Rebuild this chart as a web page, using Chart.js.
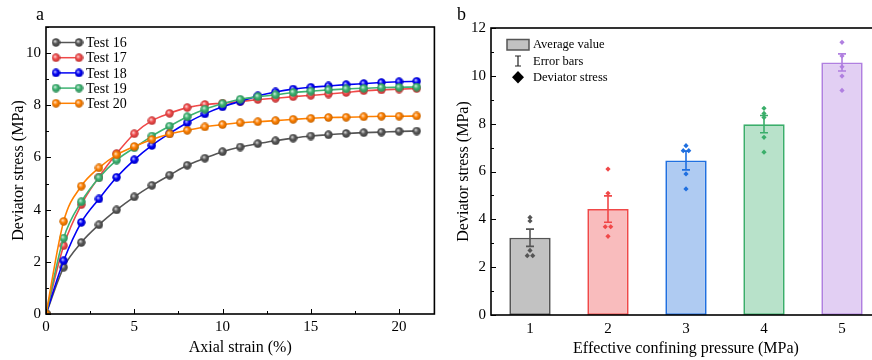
<!DOCTYPE html>
<html>
<head>
<meta charset="utf-8">
<script src="https://cdn.jsdelivr.net/npm/chart.js@4.4.1/dist/chart.umd.min.js"></script>
<style>
  html, body { margin: 0; padding: 0; background: #fff; overflow: hidden; }
  #wrap { position: relative; width: 872px; height: 360px; overflow: hidden; }
  #box-a { position: absolute; left: 0; top: 0; width: 440px; height: 360px; }
  #box-b { position: absolute; left: 440px; top: 0; width: 450px; height: 360px; }
  .tag { position: absolute; font: 18px "Liberation Serif", serif; color: #000; }
</style>
</head>
<body>
<div id="wrap">
  <div id="box-a"><canvas id="chart-a" width="440" height="360"></canvas></div>
  <div id="box-b"><canvas id="chart-b" width="450" height="360"></canvas></div>
  <div class="tag" style="left:36px; top:4px;">a</div>
  <div class="tag" style="left:457px; top:4px;">b</div>
</div>
<script>
/************************ data for panel a *********************************/

const strain = [0, 1, 2, 3, 4, 5, 6, 7, 8, 9, 10, 11, 12, 13, 14, 15, 16, 17, 18, 19, 20, 21];
const test16 = [0, 1.79, 2.74, 3.42, 3.99, 4.49, 4.93, 5.32, 5.70, 5.97, 6.22, 6.40, 6.53, 6.64, 6.74, 6.82, 6.87, 6.92, 6.95, 6.97, 7.00, 7.01];
const test17 = [0, 2.62, 4.19, 5.25, 6.15, 6.91, 7.41, 7.69, 7.91, 8.03, 8.08, 8.14, 8.22, 8.27, 8.33, 8.38, 8.43, 8.49, 8.56, 8.59, 8.62, 8.64];
const test18 = [0, 2.04, 3.51, 4.41, 5.24, 5.91, 6.46, 6.92, 7.33, 7.67, 7.94, 8.15, 8.36, 8.51, 8.62, 8.69, 8.74, 8.79, 8.83, 8.87, 8.90, 8.92];
const test19 = [0, 2.91, 4.30, 5.22, 5.90, 6.37, 6.82, 7.20, 7.56, 7.85, 8.06, 8.23, 8.33, 8.40, 8.49, 8.54, 8.59, 8.63, 8.65, 8.68, 8.69, 8.70];
const test20 = [0, 3.55, 4.90, 5.60, 6.10, 6.42, 6.69, 6.90, 7.04, 7.17, 7.26, 7.33, 7.37, 7.41, 7.46, 7.50, 7.53, 7.54, 7.56, 7.58, 7.58, 7.59];
const testNames = ["Test 16", "Test 17", "Test 18", "Test 19", "Test 20"];
const testSeries = [test16, test17, test18, test19, test20];
const testColors = ["#555555", "#f04848", "#0000f5", "#3cb371", "#ff8000"];

/************************ data for panel b *********************************/

const pressure = [1, 2, 3, 4, 5];
const avgStress = [3.23, 4.43, 6.46, 7.98, 10.56];
const stressErr = [0.36, 0.55, 0.39, 0.36, 0.36];
// single tests for each confining pressure (x slightly spread where points overlap)
const sampleX = [
  [1, 1, 1, 0.965, 1.035],
  [2, 2, 1.965, 2.035, 2],
  [3, 2.965, 3.035, 3, 3],
  [4, 4, 4, 4, 4],
  [5, 5, 5, 5, 5],
];
const sampleY = [
  [4.08, 3.93, 2.70, 2.48, 2.48],
  [6.10, 5.09, 3.69, 3.69, 3.29],
  [7.08, 6.87, 6.87, 5.90, 5.27],
  [8.64, 8.43, 8.26, 7.43, 6.81],
  [11.40, 10.83, 10.38, 9.99, 9.39],
];
const barFill = ["#c2c2c2", "#f9bcbd", "#afcbf2", "#b8e2ca", "#e2cff3"];
const barLine = ["#555555", "#f04848", "#1f6fe0", "#3aae6a", "#b07fe0"];

const serif = "'Liberation Serif', 'Times New Roman', serif";

/************************ shaded ball markers *********************************/

function shade(hex, f) {
  const n = parseInt(hex.slice(1), 16);
  let r = (n >> 16) & 255, g = (n >> 8) & 255, b = n & 255;
  if (f > 0) { r += (255 - r) * f; g += (255 - g) * f; b += (255 - b) * f; }
  else { r *= 1 + f; g *= 1 + f; b *= 1 + f; }
  return "rgb(" + Math.round(r) + "," + Math.round(g) + "," + Math.round(b) + ")";
}

function ball(hex) {
  const c = document.createElement("canvas");
  c.width = c.height = 9;
  const g = c.getContext("2d");
  const grad = g.createRadialGradient(3.4, 3.2, 0.3, 4.5, 4.5, 4.5);
  grad.addColorStop(0, shade(hex, 0.75));
  grad.addColorStop(0.45, hex);
  grad.addColorStop(1, shade(hex, -0.25));
  g.fillStyle = grad;
  g.beginPath();
  g.arc(4.5, 4.5, 4.2, 0, Math.PI * 2);
  g.fill();
  return c;
}
const balls = testColors.map(ball);

/************************ frame + inward ticks *********************************/

const framePlugin = {
  id: "frame",
  afterDraw(chart, args, opts) {
    const ctx = chart.ctx;
    const a = chart.chartArea;
    const xs = chart.scales.x, ys = chart.scales.y;
    ctx.save();
    ctx.strokeStyle = "#000";
    ctx.lineWidth = 1;
    (opts.yMajor || []).forEach(function (v) {
      const len = v % opts.yStep === 0 ? 5 : 3;
      const py = Math.round(ys.getPixelForValue(v)) + 0.5;
      ctx.beginPath(); ctx.moveTo(a.left, py); ctx.lineTo(a.left + len, py); ctx.stroke();
    });
    (opts.xMajor || []).forEach(function (v) {
      const len = v % opts.xStep === 0 ? 5 : 3;
      const px = Math.round(xs.getPixelForValue(v)) + 0.5;
      ctx.beginPath(); ctx.moveTo(px, a.bottom); ctx.lineTo(px, a.bottom - len); ctx.stroke();
    });
    ctx.lineWidth = 1.6;
    ctx.strokeRect(a.left, a.top, a.right - a.left, a.bottom - a.top);
    ctx.restore();
  }
};

/************************ CHART A: stress-strain curves ******************************/

const legendA = {
  id: "legendA",
  afterDraw(chart) {
    const ctx = chart.ctx;
    ctx.save();
    ctx.font = "14px " + serif;
    ctx.textBaseline = "middle";
    ctx.fillStyle = "#000";
    testNames.forEach(function (name, i) {
      const y = 42.5 + i * 15.2;
      ctx.strokeStyle = testColors[i];
      ctx.lineWidth = 1.5;
      ctx.beginPath(); ctx.moveTo(56, y); ctx.lineTo(79, y); ctx.stroke();
      ctx.drawImage(balls[i], 56 - 4.5, y - 4.5);
      ctx.drawImage(balls[i], 79 - 4.5, y - 4.5);
      ctx.fillText(name, 86, y + 1);
    });
    ctx.restore();
  }
};

const ctxA = document.getElementById("chart-a").getContext("2d");
const chartA = new Chart(ctxA, {
  type: "line",
  data: {
    datasets: testSeries.map(function (vals, i) {
      return {
        label: testNames[i],
        data: strain.map(function (s, k) { return { x: s, y: vals[k] }; }),
        borderColor: testColors[i],
        backgroundColor: testColors[i],
        borderWidth: 1.6,
        pointStyle: balls[i],
        cubicInterpolationMode: "monotone",
        order: testSeries.length - 1 - i,
      };
    }),
  },
  options: {
    responsive: false,
    animation: false,
    layout: { padding: { top: 27, right: 4, left: 0, bottom: 0 } },
    plugins: {
      legend: { display: false },
      tooltip: { enabled: false },
      frame: {
        yMajor: [0, 1, 2, 3, 4, 5, 6, 7, 8, 9, 10, 11], yStep: 2,
        xMajor: [0, 2.5, 5, 7.5, 10, 12.5, 15, 17.5, 20], xStep: 5,
      },
    },
    scales: {
      x: {
        type: "linear",
        min: 0, max: 22,
        grid: { display: false, drawTicks: false },
        border: { display: false },
        ticks: { stepSize: 5, padding: 4, color: "#000", font: { family: serif, size: 15 } },
        afterBuildTicks(s) { s.ticks = s.ticks.filter(function (t) { return t.value % 5 === 0; }); },
        afterFit(s) { s.height = 46; },
        title: { display: true, text: "Axial strain (%)", color: "#000", padding: { top: 0, bottom: 3 }, font: { family: serif, size: 16 } },
      },
      y: {
        min: 0, max: 11,
        grid: { display: false, drawTicks: false },
        border: { display: false },
        ticks: { stepSize: 2, padding: 5, color: "#000", font: { family: serif, size: 15 } },
        afterBuildTicks(s) { s.ticks = s.ticks.filter(function (t) { return t.value % 2 === 0; }); },
        afterFit(s) { s.width = 46; },
        title: { display: true, text: "Deviator stress (MPa)", color: "#000", padding: { top: 9, bottom: 0 }, font: { family: serif, size: 16 } },
      },
    },
  },
  plugins: [framePlugin, legendA],
});

/************************ CHART B: average deviator stress ******************************/

const errorBars = {
  id: "errorBars",
  afterDatasetDraw(chart, args) {
    if (args.index !== 0) return;
    const ctx = chart.ctx;
    const xs = chart.scales.x, ys = chart.scales.y;
    ctx.save();
    ctx.lineWidth = 1.6;
    pressure.forEach(function (p, i) {
      const px = xs.getPixelForValue(p);
      const top = ys.getPixelForValue(avgStress[i] + stressErr[i]);
      const bot = ys.getPixelForValue(avgStress[i] - stressErr[i]);
      ctx.strokeStyle = barLine[i];
      ctx.beginPath();
      ctx.moveTo(px, top); ctx.lineTo(px, bot);
      ctx.moveTo(px - 4, top); ctx.lineTo(px + 4, top);
      ctx.moveTo(px - 4, bot); ctx.lineTo(px + 4, bot);
      ctx.stroke();
    });
    ctx.restore();
  }
};

const legendB = {
  id: "legendB",
  afterDraw(chart) {
    const ctx = chart.ctx;
    ctx.save();
    ctx.font = "12.5px " + serif;
    ctx.textBaseline = "middle";
    // bar sample
    ctx.fillStyle = "#c2c2c2";
    ctx.fillRect(67, 39.5, 22, 10.5);
    ctx.strokeStyle = "#555";
    ctx.lineWidth = 1.5;
    ctx.strokeRect(67, 39.5, 22, 10.5);
    // error bar sample
    ctx.strokeStyle = "#222";
    ctx.lineWidth = 1.2;
    ctx.beginPath();
    ctx.moveTo(78, 56); ctx.lineTo(78, 66);
    ctx.moveTo(75, 56); ctx.lineTo(81, 56);
    ctx.moveTo(75, 66); ctx.lineTo(81, 66);
    ctx.stroke();
    // point sample
    ctx.fillStyle = "#000";
    ctx.beginPath();
    ctx.moveTo(78, 71); ctx.lineTo(84, 77.3); ctx.lineTo(78, 83.6); ctx.lineTo(72, 77.3);
    ctx.closePath(); ctx.fill();
    ctx.fillText("Average value", 93, 44.5);
    ctx.fillText("Error bars", 93, 61.5);
    ctx.fillText("Deviator stress", 93, 77.5);
    ctx.restore();
  }
};

const ctxB = document.getElementById("chart-b").getContext("2d");
const chartB = new Chart(ctxB, {
  type: "bar",
  data: {
    datasets: [
      {
        type: "bar",
        label: "Average value",
        data: pressure.map(function (p, i) { return { x: p, y: avgStress[i] }; }),
        backgroundColor: barFill,
        borderColor: barLine,
        borderWidth: 1.8,
        borderSkipped: false,
        categoryPercentage: 1,
        barPercentage: 0.53,
        order: 10,
      },
    ].concat(pressure.map(function (p, i) {
      return {
        type: "scatter",
        label: "Deviator stress " + p,
        data: sampleX[i].map(function (x, k) { return { x: x, y: sampleY[i][k] }; }),
        pointStyle: "rectRot",
        pointRadius: 2.6,
        pointBorderWidth: 0,
        backgroundColor: barLine[i],
        borderColor: barLine[i],
        order: 0,
      };
    })),
  },
  options: {
    responsive: false,
    animation: false,
    layout: { padding: { top: 28, right: 9, left: 0, bottom: 0 } },
    plugins: {
      legend: { display: false },
      tooltip: { enabled: false },
      frame: { yMajor: [0, 1, 2, 3, 4, 5, 6, 7, 8, 9, 10, 11, 12], yStep: 2 },
    },
    scales: {
      x: {
        type: "linear",
        min: 0.5, max: 5.5,
        offset: false,
        grid: { display: false, drawTicks: false },
        border: { display: false },
        ticks: { padding: 5, color: "#000", font: { family: serif, size: 15 } },
        afterBuildTicks(s) { s.ticks = pressure.map(function (v) { return { value: v }; }); },
        afterFit(s) { s.height = 45; },
        title: { display: true, text: "Effective confining pressure (MPa)", color: "#000", padding: { top: 0, bottom: 2 }, font: { family: serif, size: 16 } },
      },
      y: {
        min: 0, max: 12,
        grid: { display: false, drawTicks: false },
        border: { display: false },
        ticks: { stepSize: 2, padding: 5, color: "#000", font: { family: serif, size: 15 } },
        afterFit(s) { s.width = 51; },
        title: { display: true, text: "Deviator stress (MPa)", color: "#000", padding: { top: 14, bottom: 0 }, font: { family: serif, size: 16 } },
      },
    },
  },
  plugins: [framePlugin, errorBars, legendB],
});
</script>
</body>
</html>
